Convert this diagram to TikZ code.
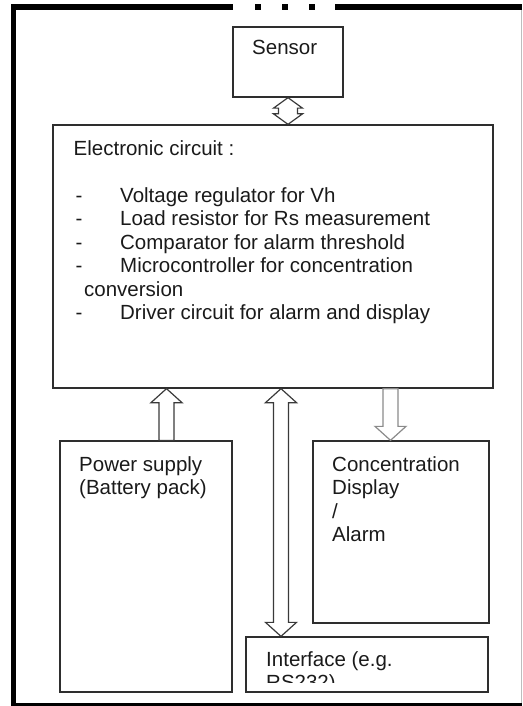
\documentclass[tikz,border=0pt]{standalone}
\usepackage{fontspec}
\setmainfont{Liberation Sans}
\usetikzlibrary{calc}
\definecolor{frameink}{HTML}{000000}
\definecolor{boxink}{HTML}{2E2E2E}
\definecolor{textink}{HTML}{1A1A1A}
\definecolor{arrowink}{HTML}{3A3A3A}
\definecolor{arrowmuted}{HTML}{8A8A8A}
\definecolor{frameshade}{HTML}{BDBDBD}
\newcommand{\shafthalf}{7.5pt}
\newcommand{\headhalf}{15.5pt}
\newcommand{\blockarrow}[4][]{%
  \draw[arrowink, line width=1.2pt, #1] let \p1=(#2), \p2=(#3), \n1={sign(\y2-\y1)} in
    (\x1-\shafthalf,\y1) -- (\x1-\shafthalf,\y2-\n1*#4) -- (\x1-\headhalf,\y2-\n1*#4) -- (\x2,\y2)
    -- (\x1+\headhalf,\y2-\n1*#4) -- (\x1+\shafthalf,\y2-\n1*#4) -- (\x1+\shafthalf,\y1) -- cycle;
}
\newcommand{\blockboth}[4][]{%
  \draw[arrowink, line width=1.2pt, #1] let \p1=(#2), \p2=(#3), \n1={sign(\y2-\y1)} in
    (\x1,\y1) -- (\x1-\headhalf,\y1+\n1*#4) -- (\x1-\shafthalf,\y1+\n1*#4) -- (\x1-\shafthalf,\y2-\n1*#4)
    -- (\x1-\headhalf,\y2-\n1*#4) -- (\x2,\y2) -- (\x1+\headhalf,\y2-\n1*#4) -- (\x1+\shafthalf,\y2-\n1*#4)
    -- (\x1+\shafthalf,\y1+\n1*#4) -- (\x1+\headhalf,\y1+\n1*#4) -- cycle;
}
\newcommand{\dashitem}[1]{\makebox[46.5pt][l]{\hspace{2pt}-}#1}

\begin{document}
\begin{tikzpicture}[
  x=1pt,
  y=-1pt,
  every node/.style={font=\fontsize{20.5}{23.5}\selectfont, inner sep=0pt},
  box/.style={draw=boxink, line width=1.3pt},
  txt/.style={textink, align=left, anchor=base west}
]
  \useasboundingbox (0,0) rectangle (522,706);

  % frame
  \draw[frameink, line width=6pt, dash pattern=on 222pt off 22pt on 6pt off 21pt on 6pt off 21pt on 6pt off 20pt on 200pt]
    (11,7.5) -- (522,7.5);
  \draw[frameink, line width=5pt] (13.5,4.5) -- (13.5,706);
  \draw[frameink, line width=3pt] (11,704.5) -- (522,704.5);
  \draw[frameshade, line width=1pt] (521,10) -- (521,703);

  % blocks
  \node[box, minimum width=110pt, minimum height=70pt] (sensor) at (288,62) {};
  \node[box, minimum width=440pt, minimum height=263pt] (circuit) at (273,256.5) {};
  \node[box, minimum width=172pt, minimum height=251pt] (power) at (146,566.5) {};
  \node[box, minimum width=176pt, minimum height=182pt] (conc) at (401,532) {};
  \node[box, minimum width=242pt, minimum height=55pt] (intf) at (367,664.5) {};

  % texts (base = last line)
  \node[txt] (sensortext) at (252,55) {Sensor};
  \node[txt] (circuittext) at (73.5,319.5) {Electronic circuit :\\[23.5pt]
    \dashitem{Voltage regulator for Vh}\\
    \dashitem{Load resistor for Rs measurement}\\
    \dashitem{Comparator for alarm threshold}\\
    \dashitem{Microcontroller for concentration}\\
    \hspace{10.5pt}conversion\\
    \dashitem{Driver circuit for alarm and display}};
  \node[txt] (powertext) at (79,494.5) {Power supply\\(Battery pack)};
  \node[txt] (conctext) at (332,541.5) {Concentration\\Display\\/\\Alarm};
  \begin{scope}
    \clip (intf.north west) rectangle ([yshift=10pt]intf.south east);
    \node[txt] (intftext) at (266,689.5) {Interface (e.g.\\RS232)};
  \end{scope}

  % block arrows
  \coordinate (pwrx) at ([xshift=20.5pt]power.north);
  \coordinate (concx) at ([xshift=-10.5pt]conc.north);
  \coordinate (intfx) at ([xshift=-86pt]intf.north);
  {\renewcommand{\shafthalf}{9.5pt}\renewcommand{\headhalf}{14.5pt}%
   \blockboth{sensor.south}{sensor.south |- circuit.north}{10.5pt}}
  \blockarrow{pwrx}{pwrx |- circuit.south}{14pt}
  \blockarrow[arrowmuted]{concx |- circuit.south}{concx}{14pt}
  \blockboth{intfx |- circuit.south}{intfx}{14pt}
\end{tikzpicture}
\end{document}
